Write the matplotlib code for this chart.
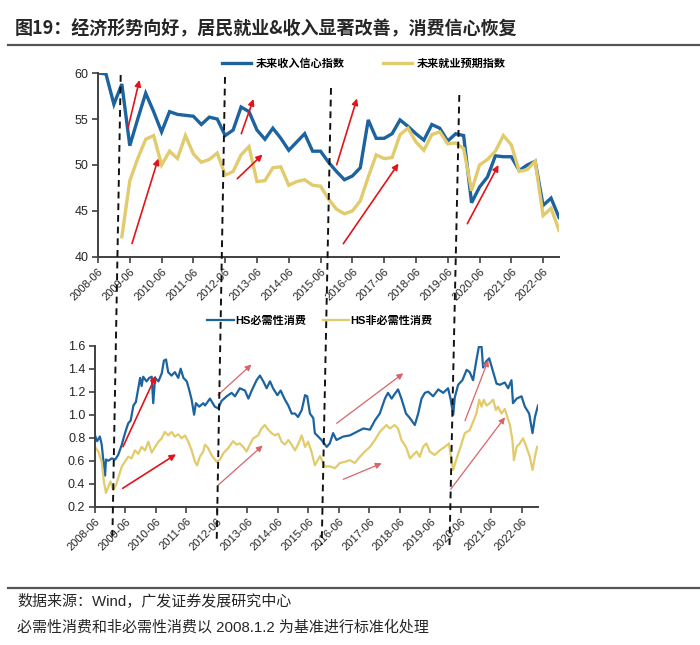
import numpy as np
import matplotlib
matplotlib.use("Agg")
import matplotlib.pyplot as plt
from matplotlib.lines import Line2D
from matplotlib.patches import FancyArrowPatch

plt.rcParams['font.family'] = ['Liberation Sans', 'Noto Sans CJK SC']
CJK = ['Noto Sans CJK SC', 'Liberation Sans']
LATIN_CJK = ['Liberation Sans', 'Noto Sans CJK SC']

# ---------------- data: top chart (quarterly, from 2008-06) ----------------
top_labels = ['2008-06', '2009-06', '2010-06', '2011-06', '2012-06', '2013-06',
              '2014-06', '2015-06', '2016-06', '2017-06', '2018-06', '2019-06',
              '2020-06', '2021-06', '2022-06']
income_conf = [60.0, 59.9, 56.6, 58.8, 52.1, 55.0, 57.8, 55.8, 53.6, 55.8,
               55.5, 55.4, 55.3, 54.4, 55.2, 55.0, 53.2, 53.8, 56.3, 55.8,
               53.8, 52.8, 54.0, 52.9, 51.6, 52.5, 53.4, 51.5, 51.5, 50.3,
               49.3, 48.4, 48.8, 49.7, 54.9, 52.9, 52.9, 53.4, 54.9, 54.2,
               53.4, 52.7, 54.4, 54.0, 52.6, 53.4, 53.2, 45.9, 47.6, 48.7,
               51.0, 50.9, 50.9, 49.4, 50.0, 50.4, 45.6, 46.4, 44.3]
employ_exp = [np.nan, np.nan, np.nan, 42.2, 48.3, 50.7, 52.8, 53.2, 50.0, 51.5,
              50.7, 53.2, 51.2, 50.3, 50.6, 51.3, 48.9, 49.3, 51.1, 52.0,
              48.2, 48.3, 49.7, 49.8, 47.8, 48.2, 48.4, 47.8, 47.7, 46.3,
              45.2, 44.7, 45.0, 46.1, 48.7, 51.1, 50.7, 50.8, 53.3, 54.0,
              52.5, 51.6, 53.3, 53.6, 52.3, 52.4, 51.8, 47.2, 50.0, 50.6,
              51.5, 53.2, 52.2, 49.3, 49.5, 50.4, 44.5, 45.3, 42.9]
top_names = ['未来收入信心指数', '未来就业预期指数']

# ---------------- data: bottom chart (decimal year) ----------------
ess_t = [2008.42, 2008.49, 2008.58, 2008.64, 2008.71, 2008.75, 2008.78, 2008.86, 2008.97, 2009.08,
         2009.18, 2009.30, 2009.35, 2009.44, 2009.51, 2009.59, 2009.68, 2009.76, 2009.84, 2009.90,
         2009.95, 2010.00, 2010.11, 2010.20, 2010.28, 2010.33, 2010.39, 2010.50, 2010.61, 2010.68,
         2010.75, 2010.82, 2010.93, 2011.04, 2011.15, 2011.23, 2011.32, 2011.43, 2011.51, 2011.59,
         2011.67, 2011.73, 2011.84, 2011.97, 2012.03, 2012.19, 2012.35, 2012.46, 2012.57, 2012.74,
         2012.90, 2013.01, 2013.17, 2013.34, 2013.45, 2013.56, 2013.72, 2013.83, 2013.94, 2014.05,
         2014.16, 2014.26, 2014.40, 2014.51, 2014.65, 2014.76, 2014.87, 2014.98, 2015.08, 2015.20,
         2015.31, 2015.38, 2015.47, 2015.58, 2015.63, 2015.85, 2016.02, 2016.12, 2016.23, 2016.34,
         2016.56, 2016.78, 2017.00, 2017.22, 2017.44, 2017.60, 2017.76, 2017.93, 2018.03, 2018.15,
         2018.25, 2018.36, 2018.47, 2018.62, 2018.75, 2018.91, 2019.02, 2019.13, 2019.24, 2019.35,
         2019.51, 2019.68, 2019.84, 2020.00, 2020.08, 2020.17, 2020.22, 2020.33, 2020.47, 2020.61,
         2020.71, 2020.82, 2020.93, 2021.01, 2021.10, 2021.15, 2021.24, 2021.35, 2021.48, 2021.59,
         2021.70, 2021.86, 2021.97, 2022.08, 2022.13, 2022.25, 2022.41, 2022.52, 2022.66, 2022.77,
         2022.85, 2022.95]
ess_v = [0.82, 0.77, 0.81, 0.74, 0.56, 0.47, 0.61, 0.60, 0.62, 0.61,
         0.65, 0.74, 0.79, 0.87, 0.925, 0.95, 1.08, 1.11, 1.23, 1.32,
         1.25, 1.33, 1.29, 1.32, 1.33, 1.10, 1.32, 1.29, 1.36, 1.47,
         1.48, 1.37, 1.34, 1.37, 1.32, 1.40, 1.32, 1.29, 1.215, 1.13,
         1.00, 1.10, 1.07, 1.10, 1.08, 1.14, 1.07, 1.055, 1.12, 1.16,
         1.19, 1.16, 1.23, 1.21, 1.14, 1.21, 1.30, 1.34, 1.29, 1.23,
         1.29, 1.23, 1.17, 1.21, 1.13, 1.08, 1.01, 1.01, 0.98, 1.04,
         1.17, 1.16, 1.01, 0.97, 0.84, 0.78, 0.72, 0.75, 0.84, 0.78,
         0.81, 0.82, 0.85, 0.88, 0.87, 0.95, 1.01, 1.14, 1.19, 1.14,
         1.18, 1.22, 1.14, 1.01, 0.97, 0.91, 1.01, 1.14, 1.19, 1.20,
         1.16, 1.22, 1.19, 1.23, 1.14, 1.00, 1.15, 1.26, 1.30, 1.39,
         1.37, 1.30, 1.475, 1.59, 1.59, 1.41, 1.46, 1.49, 1.37, 1.27,
         1.26, 1.28, 1.23, 1.30, 1.10, 1.14, 1.16, 1.07, 1.01, 0.84,
         0.98, 1.08]
dis_t = [2008.42, 2008.53, 2008.64, 2008.71, 2008.78, 2008.86, 2008.93, 2009.02, 2009.11, 2009.18,
         2009.30, 2009.40, 2009.51, 2009.62, 2009.73, 2009.84, 2009.95, 2010.06, 2010.17, 2010.28,
         2010.39, 2010.50, 2010.61, 2010.71, 2010.82, 2010.93, 2011.04, 2011.15, 2011.26, 2011.37,
         2011.48, 2011.59, 2011.70, 2011.77, 2011.86, 2011.97, 2012.03, 2012.13, 2012.24, 2012.41,
         2012.52, 2012.63, 2012.79, 2012.95, 2013.06, 2013.17, 2013.28, 2013.39, 2013.50, 2013.61,
         2013.77, 2013.88, 2013.99, 2014.10, 2014.21, 2014.32, 2014.43, 2014.54, 2014.65, 2014.76,
         2014.87, 2014.98, 2015.08, 2015.20, 2015.31, 2015.41, 2015.52, 2015.63, 2015.80, 2015.96,
         2016.12, 2016.29, 2016.45, 2016.62, 2016.78, 2016.94, 2017.11, 2017.27, 2017.44, 2017.60,
         2017.76, 2017.87, 2017.98, 2018.09, 2018.25, 2018.36, 2018.47, 2018.62, 2018.75, 2018.86,
         2018.97, 2019.07, 2019.18, 2019.29, 2019.40, 2019.56, 2019.73, 2019.89, 2020.03, 2020.11,
         2020.17, 2020.28, 2020.41, 2020.55, 2020.71, 2020.84, 2020.93, 2021.02, 2021.10, 2021.17,
         2021.26, 2021.37, 2021.48, 2021.57, 2021.64, 2021.75, 2021.86, 2022.03, 2022.11, 2022.16,
         2022.25, 2022.35, 2022.46, 2022.57, 2022.68, 2022.77, 2022.85, 2022.92]
dis_v = [0.72, 0.68, 0.59, 0.42, 0.32, 0.375, 0.42, 0.345, 0.39, 0.45,
         0.55, 0.59, 0.635, 0.62, 0.69, 0.66, 0.72, 0.69, 0.765, 0.67,
         0.72, 0.765, 0.795, 0.85, 0.82, 0.85, 0.81, 0.83, 0.795, 0.82,
         0.765, 0.69, 0.59, 0.56, 0.635, 0.68, 0.74, 0.71, 0.65, 0.59,
         0.61, 0.665, 0.71, 0.77, 0.74, 0.75, 0.72, 0.68, 0.74, 0.795,
         0.82, 0.88, 0.91, 0.87, 0.84, 0.82, 0.835, 0.765, 0.74, 0.78,
         0.74, 0.69, 0.74, 0.82, 0.72, 0.765, 0.68, 0.56, 0.64, 0.55,
         0.55, 0.535, 0.58, 0.59, 0.605, 0.58, 0.635, 0.68, 0.72, 0.78,
         0.85, 0.88, 0.91, 0.88, 0.91, 0.88, 0.78, 0.72, 0.62, 0.65,
         0.68, 0.635, 0.72, 0.75, 0.68, 0.65, 0.69, 0.72, 0.75, 0.605,
         0.52, 0.62, 0.72, 0.84, 0.865, 0.95, 1.01, 1.13, 1.07, 1.13,
         1.08, 1.10, 1.13, 1.04, 1.07, 1.01, 1.05, 0.91, 0.78, 0.605,
         0.72, 0.75, 0.795, 0.72, 0.635, 0.52, 0.635, 0.72]
bot_labels = top_labels
bot_names = ['HS必需性消费', 'HS非必需性消费']

BLUE = '#1c639f'
YELLOW = '#e2cb6c'
RED = '#e0151b'
PINK = '#d9646a'
AX = '#404040'
TXT = '#262626'

W, H = 700, 645
fig = plt.figure(figsize=(W / 100, H / 100), dpi=100)


def fx(px):
    return px / W


def fy(py):
    return 1 - py / H


# ---------------- top axes ----------------
ax1 = fig.add_axes([fx(98), fy(257), (559 - 98) / W, (257 - 73) / H])
q = np.arange(len(income_conf))
l1, = ax1.plot(q, income_conf, color=BLUE, lw=2.4, solid_joinstyle='miter')
l2, = ax1.plot(q, employ_exp, color=YELLOW, lw=2.4, solid_joinstyle='miter')
ax1.set_xlim(0, len(income_conf) - 1)
ax1.set_ylim(40, 60)
ax1.set_yticks([40, 45, 50, 55, 60])
ax1.set_xticks(np.arange(0, len(income_conf), 4))
ax1.set_xticklabels(top_labels, rotation=45, ha='right', va='top',
                    rotation_mode='anchor', fontsize=8, color=TXT)
for lab in ax1.get_yticklabels():
    lab.set_fontsize(9)
    lab.set_color(TXT)

# ---------------- bottom axes ----------------
ax2 = fig.add_axes([fx(95), fy(506.7), (538 - 95) / W, (506.7 - 345.7) / H])
l3, = ax2.plot(ess_t, ess_v, color=BLUE, lw=1.6)
l4, = ax2.plot(dis_t, dis_v, color=YELLOW, lw=1.6)
ax2.set_xlim(2008.42, 2022.95)
ax2.set_ylim(0.2, 1.6)
ax2.set_yticks(np.arange(0.2, 1.61, 0.2))
ax2.set_yticklabels([f'{v:.1f}' for v in np.arange(0.2, 1.61, 0.2)], fontsize=9, color=TXT)
ax2.set_xticks([2008.42 + k for k in range(len(bot_labels))])
ax2.set_xticklabels(bot_labels, rotation=45, ha='right', va='top',
                    rotation_mode='anchor', fontsize=8, color=TXT)

for ax in (ax1, ax2):
    for s in ('top', 'right'):
        ax.spines[s].set_visible(False)
    for s in ('left', 'bottom'):
        ax.spines[s].set_color(AX)
        ax.spines[s].set_linewidth(1.4)
    ax.tick_params(axis='both', direction='out', length=4, width=1.2, color=AX, pad=3)
    ax.patch.set_alpha(0)

# ---------------- legends ----------------
fig.legend([l1, l2], top_names, loc='center', bbox_to_anchor=(fx(364), fy(63)),
           ncol=2, frameon=False, handlelength=2.6, handletextpad=0.45,
           columnspacing=3.4, prop={'family': CJK, 'size': 8, 'weight': 'bold'})
fig.legend([Line2D([], [], color=BLUE, lw=1.6), Line2D([], [], color=YELLOW, lw=1.6)],
           bot_names, loc='center', bbox_to_anchor=(fx(320), fy(321)),
           ncol=2, frameon=False, handlelength=2.4, handletextpad=0.1,
           columnspacing=1.5, prop={'family': LATIN_CJK, 'size': 8, 'weight': 'bold'})

# ---------------- dashed vertical guides ----------------
dash_lines = [((120.7, 75), (112.3, 542)),
              ((225.0, 77), (216.7, 542)),
              ((331.0, 88), (321.7, 545)),
              ((459.3, 95), (449.5, 545))]
for (xa, ya), (xb, yb) in dash_lines:
    fig.add_artist(Line2D([fx(xa), fx(xb)], [fy(ya), fy(yb)], transform=fig.transFigure,
                          color='#111111', lw=1.4, linestyle=(0, (3.5, 2.5))))

# ---------------- trend arrows ----------------
arrows = [((128, 128), (139.5, 80), RED, 1.2),
          ((132, 243.5), (158.3, 158.5), RED, 1.2),
          ((241.3, 133.7), (253.5, 99), RED, 1.2),
          ((237.3, 178.7), (262.5, 154.5), RED, 1.2),
          ((336.7, 164.7), (357, 98.5), RED, 1.2),
          ((343.3, 243.7), (398.5, 163.5), RED, 1.2),
          ((467.3, 223.7), (498.5, 165), RED, 1.2),
          ((123, 446.7), (156, 375.5), RED, 1.2),
          ((122.7, 488.3), (176, 454.3), RED, 1.2),
          ((218, 395), (251.5, 364.5), PINK, 0.9),
          ((218.3, 485), (262.7, 445.5), PINK, 0.9),
          ((336.7, 423.3), (403.3, 373.3), PINK, 0.9),
          ((343.3, 479.3), (381.7, 463.3), PINK, 0.9),
          ((465, 420.7), (488.3, 360), PINK, 0.9),
          ((450.7, 489.3), (505, 417.3), PINK, 0.9)]
for (xa, ya), (xb, yb), c, lw in arrows:
    fig.add_artist(FancyArrowPatch((fx(xa), fy(ya)), (fx(xb), fy(yb)),
                                   transform=fig.transFigure, arrowstyle='-|>',
                                   mutation_scale=9, color=c, lw=lw,
                                   shrinkA=0, shrinkB=0))

# ---------------- title, rules, footer ----------------
fig.text(fx(15), fy(29), '图19：经济形势向好，居民就业&收入显著改善，消费信心恢复',
         family=CJK, fontsize=13, fontweight='bold', color=TXT, va='center', ha='left')
fig.add_artist(Line2D([fx(8), fx(700)], [fy(45), fy(45)], transform=fig.transFigure,
                      color='#555555', lw=1.6))
fig.add_artist(Line2D([fx(8), fx(700)], [fy(588), fy(588)], transform=fig.transFigure,
                      color='#555555', lw=1.6))
fig.text(fx(17), fy(601), '数据来源：Wind，广发证券发展研究中心', family=LATIN_CJK,
         fontsize=10.8, color=TXT, va='center', ha='left')
fig.text(fx(17), fy(627), '必需性消费和非必需性消费以 2008.1.2 为基准进行标准化处理', family=LATIN_CJK,
         fontsize=10.8, color=TXT, va='center', ha='left')

fig.savefig('out.png', dpi=100)
